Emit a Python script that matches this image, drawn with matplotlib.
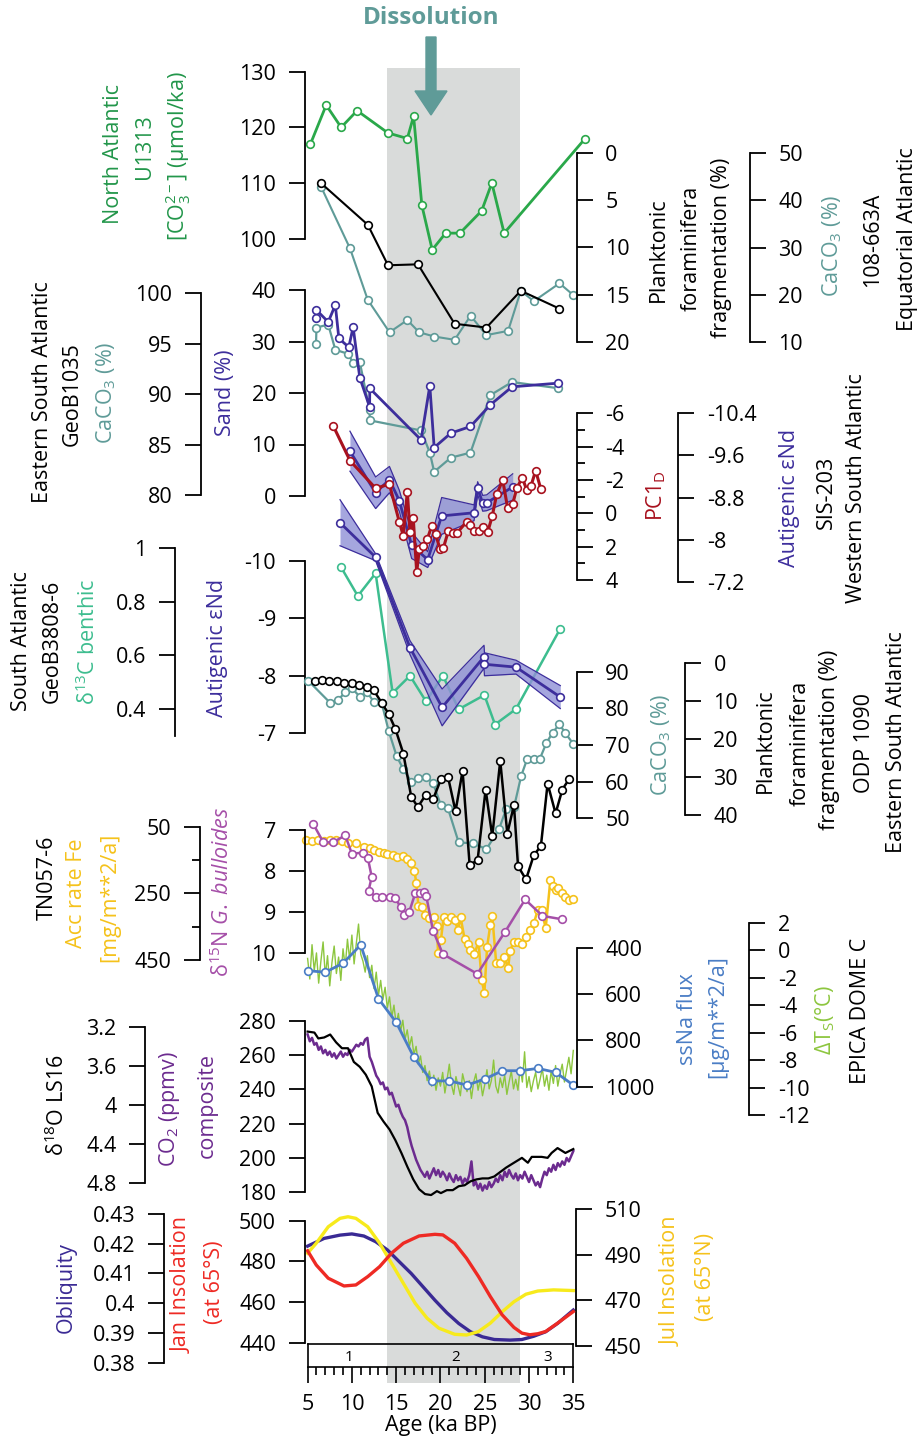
import numpy as np
import matplotlib.pyplot as plt
from matplotlib.patches import FancyArrow
from matplotlib.ticker import FormatStrFormatter

plt.rcParams['font.family'] = ['Open Sans', 'DejaVu Sans']
plt.rcParams['mathtext.fontset'] = 'custom'
plt.rcParams['mathtext.rm'] = 'Open Sans'
plt.rcParams['mathtext.it'] = 'Open Sans:italic'
plt.rcParams['mathtext.bf'] = 'Open Sans:bold'
plt.rcParams['axes.unicode_minus'] = False

# ---- records (age in ka BP) ----
DISSOLUTION = (14, 29)
MIS_LABELS = ['1', '2', '3']
MIS_CENTERS = [9.7, 21.7, 32.1]

# North Atlantic U1313, carbonate ion
U1313_AGE = [5.32, 7.1, 8.79, 10.59, 14.07, 16.26, 16.97, 17.9, 19.07, 20.58, 22.2, 24.65, 25.8, 27.19, 36.34]
U1313_CO3 = [117, 124, 120, 123, 119, 118, 122, 106, 98, 101, 101, 105, 110, 101, 118]

# 108-663A Equatorial Atlantic
FRAG663_AGE = [6.52, 11.79, 14.08, 17.46, 21.6, 25.19, 29.07, 33.44]
FRAG663 = [3.2, 7.6, 11.9, 11.8, 18.1, 18.5, 14.6, 16.5]
CACO3_663_AGE = [6.52, 9.79, 11.79, 14.25, 16.26, 17.59, 19.3, 21.6, 23.4, 25.19, 27.64, 29.07, 30.54, 33.44, 35.0]
CACO3_663 = [42.9, 29.8, 18.9, 12.0, 14.6, 12.0, 11.1, 10.4, 15.5, 11.4, 12.3, 20.8, 18.6, 22.4, 19.9]

# GeoB1035 Eastern South Atlantic
GEOB1035_AGE = [5.95, 6.0, 7.33, 8.13, 9.56, 10.14, 10.89, 12.0, 12.02, 17.81, 18.8, 19.29, 21.17, 23.39, 25.63, 28.08, 33.22]
GEOB1035_CACO3 = [95.0, 96.6, 96.9, 94.4, 94.0, 93.1, 93.2, 88.4, 87.4, 86.4, 84.2, 82.3, 83.7, 84.2, 89.9, 91.2, 90.6]
SAND_AGE = [5.95, 6.0, 7.33, 8.13, 8.53, 9.65, 10.14, 10.89, 12.0, 12.02, 17.81, 18.8, 19.29, 21.17, 23.39, 25.63, 28.08, 33.22]
SAND = [34.6, 36.1, 33.8, 37.1, 30.6, 28.9, 32.8, 23.0, 17.3, 20.9, 10.9, 21.4, 9.4, 12.2, 13.5, 17.7, 21.2, 21.9]

# SIS-203 Western South Atlantic
PC1_AGE = [7.9, 9.79, 12.68, 14.23, 15.35, 15.8, 16.26, 16.56, 16.93, 17.32, 17.61, 18.06, 18.51, 19.01, 19.46,
           19.95, 20.32, 20.89, 21.38, 21.83, 22.96, 23.34, 23.82, 24.35, 24.84, 25.33, 25.85, 26.35, 27.03,
           27.59, 28.16, 28.61, 29.24, 29.74, 30.22, 30.75, 31.32]
PC1 = [-5.24, -3.16, -1.5, -1.75, 0.5, 1.34, -1.3, 1.14, 0.3, 3.54, 2.14, 1.96, 1.56, 0.76, 1.24,
       2.16, 2.1, 1.06, 1.2, 1.2, 0.5, 0.7, 1.06, 1.06, 0.8, 1.14, 0.16, -1.14, -2.0,
       -0.3, -0.56, -1.5, -2.14, -1.4, -1.64, -2.56, -1.48]
SIS_ND_AGE = [9.78, 12.68, 14.24, 15.35, 16.75, 18.56, 20.14, 23.79, 24.2, 24.77, 25.22, 28.16]
SIS_ND = [-9.68, -8.89, -9.14, -8.74, -7.89, -7.62, -8.45, -8.51, -8.98, -8.69, -8.7, -9.0]
SIS_ND_ERR = [0.38, 0.3, 0.25, 0.2, 0.25, 0.15, 0.35, 0.15, 0.12, 0.15, 0.15, 0.25]

# GeoB3808-6 South Atlantic
D13C_AGE = [8.75, 10.67, 12.68, 14.6, 16.56, 18.36, 20.28, 22.06, 24.96, 26.16, 28.53, 33.53]
D13C = [0.931, 0.822, 0.907, 0.46, 0.524, 0.429, 0.524, 0.399, 0.452, 0.342, 0.40, 0.70]
G3808_ND_AGE = [8.66, 12.68, 16.56, 20.19, 24.92, 24.97, 28.53, 33.53]
G3808_ND = [-10.66, -10.06, -8.49, -7.45, -8.33, -8.2, -8.15, -7.63]
G3808_ND_ERR = [0.4, 0.06, 0.12, 0.32, 0.2, 0.2, 0.12, 0.2]

# ODP 1090 Eastern South Atlantic
CACO3_1090_AGE = [5.09, 7.55, 8.44, 9.25, 10.0, 10.89, 11.7, 12.46, 13.36, 14.16, 15.05, 15.81, 16.7, 17.5,
                  18.36, 19.16, 20.05, 20.85, 22.06, 23.62, 25.19, 26.61, 27.41, 28.3, 29.12, 29.78, 30.54,
                  31.2, 31.97, 32.68, 33.44, 34.11, 35.0]
CACO3_1090 = [87.5, 81.5, 82.3, 84.4, 85.5, 83.2, 84.5, 81.8, 81.5, 73.8, 67.0, 63.4, 60.0, 60.9,
              61.4, 59.6, 53.6, 52.7, 43.4, 43.2, 41.6, 47.0, 52.5, 53.0, 61.6, 66.1, 66.1,
              66.1, 70.6, 73.4, 75.7, 73.2, 70.3]
FRAG1090_AGE = [5.85, 6.66, 7.46, 8.31, 9.11, 10.0, 10.8, 11.7, 12.46, 13.36, 14.16, 14.91, 15.81, 16.7,
                17.45, 18.36, 19.16, 20.05, 20.85, 21.7, 22.5, 23.3, 24.2, 25.1, 25.85, 26.75, 27.55,
                28.3, 28.76, 29.66, 30.54, 31.34, 32.1, 33.0, 33.76, 34.56]
FRAG1090 = [4.6, 4.4, 4.6, 4.6, 5.3, 5.3, 5.7, 6.2, 7.1, 10.4, 13.4, 17.3, 23.8, 35.2,
            37.9, 34.6, 35.9, 30.6, 29.9, 39.0, 28.4, 53.3, 51.8, 33.3, 45.6, 25.7, 44.9,
            37.4, 53.5, 57.0, 50.6, 48.2, 31.7, 39.6, 33.3, 30.4]

# TN057-6
D15N_AGE = [5.63, 6.78, 7.86, 9.25, 10.0, 11.21, 11.79, 12.24, 11.88, 12.68, 13.36, 14.25, 14.91, 15.5,
            15.9, 16.48, 17.15, 17.72, 18.17, 18.4, 19.16, 20.28, 24.16, 27.32, 29.56, 31.52, 33.67]
D15N = [6.85, 7.30, 7.30, 7.13, 7.58, 7.55, 7.67, 8.14, 8.48, 8.62, 8.62, 8.62, 8.66, 8.88,
        9.07, 8.99, 8.54, 8.53, 8.5, 8.61, 9.45, 10.02, 10.5, 9.47, 8.69, 9.09, 9.17]
FE_AGE = [4.86, 5.54, 6.21, 6.88, 7.55, 8.22, 8.88, 9.56, 10.45, 11.35, 12.01, 12.46, 13.04, 13.58,
          14.02, 14.69, 15.14, 15.81, 16.26, 16.7, 17.06, 17.28, 17.51, 17.95, 18.27, 18.71, 19.29,
          19.6, 19.73, 20.05, 20.37, 20.72, 21.17, 21.61, 21.97, 22.28, 22.73, 23.09, 23.39, 23.84,
          24.3, 24.65, 24.96, 25.27, 25.63, 25.85, 26.29, 26.74, 27.2, 27.64, 27.86, 28.3, 28.75,
          29.2, 29.65, 30.1, 30.54, 30.99, 31.43, 31.88, 32.41, 32.68, 33.0, 33.3, 33.67, 34.11,
          34.56, 34.92]
FE = [90, 92, 90, 92, 90, 90, 92, 100, 98, 110, 115, 120, 125, 130,
      133, 135, 140, 138, 148, 160, 182, 220, 288, 290, 315, 325, 320,
      348, 430, 390, 320, 332, 322, 330, 360, 322, 388, 402, 420, 432,
      395, 510, 548, 410, 345, 318, 458, 458, 440, 475, 422, 395, 395,
      402, 380, 360, 340, 300, 300, 355, 210, 228, 240, 235, 250, 260,
      270, 268]

# EPICA Dome C
SSNA_AGE = [5, 7, 9, 11, 13, 15, 17, 19, 21, 23, 25, 27, 29, 31, 33, 35]
SSNA = [499, 506, 467, 388, 620, 722, 873, 975, 975, 993, 967, 931, 931, 921, 938, 993]
DTS_AGE = np.round(np.arange(5.0, 35.01, 0.25), 2)
DTS = [-0.6, -2.1, 0.4, -1.5, -0.2, -2.4, -0.8, 0.6, -1.9, -0.4, -2.6, -0.9,
       0.3, -1.7, -0.5, -2.2, 0.1, -1.2, 0.8, -0.7, 1.1, -1.0, 0.5, 1.9,
       -0.3, -0.8, -1.6, -0.4, -2.0, -1.1, -2.8, -1.6, -3.3, -2.2, -3.6, -2.7,
       -4.2, -3.4, -4.9, -4.0, -5.4, -4.6, -5.9, -5.1, -6.5, -5.8, -7.0, -6.3,
       -7.6, -7.0, -8.3, -7.7, -8.9, -8.4, -9.5, -8.8, -9.9, -9.1, -10.2, -9.3,
       -9.9, -8.9, -10.4, -9.4, -8.3, -9.8, -10.5, -9.2, -9.9, -10.6, -9.0, -9.7,
       -10.3, -9.5, -10.8, -9.6, -9.0, -10.2, -9.4, -10.6, -9.8, -8.7, -10.1, -9.5,
       -8.0, -9.9, -10.4, -9.3, -10.0, -9.1, -10.5, -9.6, -8.8, -10.1, -9.4, -10.2,
       -8.5, -9.6, -7.4, -10.0, -9.2, -10.3, -9.5, -8.9, -10.1, -9.4, -8.6, -9.9,
       -9.1, -10.2, -8.8, -9.7, -8.4, -9.9, -9.0, -8.3, -9.6, -8.7, -7.8, -9.0,
       -7.3]

# CO2 composite and LS16 benthic stack
CO2_AGE = np.round(np.arange(5.0, 35.01, 0.25), 2)
CO2 = [272, 268, 270, 266, 267, 263, 265, 261, 263, 260, 262, 259,
       261, 258, 260, 262, 259, 261, 260, 263, 262, 264, 266, 265,
       267, 266, 269, 270, 259, 256, 252, 248, 246, 243, 244, 240,
       241, 237, 238, 234, 230, 231, 227, 224, 222, 218, 212, 207,
       203, 199, 196, 193, 191, 189, 192, 188, 191, 194, 190, 193,
       189, 192, 190, 187, 191, 188, 186, 190, 187, 189, 185, 188,
       186, 190, 198, 184, 186, 182, 185, 181, 184, 182, 186, 183,
       185, 188, 186, 190, 187, 192, 189, 193, 190, 188, 191, 187,
       190, 188, 192, 189, 186, 190, 187, 184, 186, 183, 188, 192,
       190, 194, 192, 196, 193, 197, 195, 198, 196, 200, 198, 201,
       204]
LS16_AGE = [5.0, 5.77, 6.21, 6.87, 7.55, 8.22, 8.88, 9.56, 10.22, 10.89, 11.57, 12.24, 12.91, 13.58,
            14.25, 14.91, 15.59, 16.26, 16.93, 17.59, 18.26, 18.94, 19.6, 20.05, 20.72, 21.39, 22.06,
            22.73, 23.39, 24.07, 24.74, 25.41, 26.08, 26.52, 27.41, 28.3, 29.2, 29.87, 30.31, 31.43,
            32.1, 32.55, 33.22, 34.11, 35.0]
LS16 = [3.25, 3.26, 3.32, 3.31, 3.28, 3.36, 3.42, 3.42, 3.56, 3.61, 3.69, 3.81, 4.08, 4.17,
        4.25, 4.36, 4.49, 4.63, 4.76, 4.86, 4.91, 4.92, 4.88, 4.9, 4.87, 4.87, 4.83,
        4.82, 4.78, 4.76, 4.75, 4.75, 4.73, 4.70, 4.64, 4.59, 4.54, 4.59, 4.53, 4.53,
        4.54, 4.49, 4.44, 4.49, 4.45]

# orbital parameters
JAN_AGE = [5.0, 5.98, 7.33, 9.11, 10.45, 11.79, 13.13, 14.47, 15.81, 17.59, 19.38, 20.28, 21.61, 22.95,
           24.3, 25.63, 26.97, 28.3, 29.2, 30.09, 30.99, 31.88, 33.22, 35.0]
JAN_INS = [485.2, 478.2, 471.7, 467.9, 468.4, 472.5, 477.4, 484, 488.9, 492.5, 493.3, 493, 488.9, 481.5,
           472.5, 462.7, 453.7, 447.5, 444.7, 443.9, 444.4, 445.5, 449.6, 455.3]
OBL_AGE = [5.0, 6.87, 8.66, 10.0, 11.35, 12.68, 14.02, 15.37, 16.7, 18.04, 19.38, 20.72, 22.06, 23.39,
           24.74, 26.08, 27.86, 29.2, 30.54, 31.88, 33.22, 35.0]
OBLIQ = [0.4192, 0.4218, 0.4229, 0.4233, 0.4226, 0.4207, 0.4179, 0.4139, 0.41, 0.4055, 0.401, 0.3968,
         0.3932, 0.3904, 0.3887, 0.3878, 0.3876, 0.3878, 0.3889, 0.3904, 0.3932, 0.3977]
JUL_AGE = [5.0, 5.98, 7.33, 8.66, 9.56, 10.45, 11.79, 13.13, 14.47, 15.81, 17.15, 18.48, 19.82, 21.61,
           22.95, 24.3, 25.63, 26.97, 28.3, 29.65, 30.99, 32.77, 35.0]
JUL_INS = [490.6, 495, 502.2, 505.9, 506.6, 505.9, 502.2, 495, 486.2, 477.4, 468.6, 462.1, 457.7, 455,
           454.7, 456.2, 459.9, 464.9, 469.3, 472.6, 474, 474.5, 474.2]

# ---- colours ----
GREEN = '#2aa84a'
TEAL = '#5f9b98'
PURPLE = '#3d2e9c'
RED = '#a8121f'
BENTHIC = '#3dbd8f'
MAGENTA = '#a54fa8'
YELLOW = '#f5c21b'
BLUE = '#4a7dc5'
LIME = '#8dc63f'
CO2_PURPLE = '#6c2b8f'
JAN_RED = '#ee2a24'
JUL_YELLOW = '#f7ea1c'
BAND = '#8f90d6'

W, H = 919, 1438
X5, X35 = 307.6, 573.3
FS = 15.5

fig = plt.figure(figsize=(W / 100, H / 100), dpi=100)

# shaded dissolution interval behind everything
bg = fig.add_axes([X5 / W, 1 - 1383 / H, (X35 - X5) / W, (1383 - 68.3) / H], zorder=-1)
bg.set_xlim(5, 35)
bg.axvspan(*DISSOLUTION, color='#d9dbda', lw=0)
bg.axis('off')


def panel(y_top, y_bot, v_top, v_bot):
    ax = fig.add_axes([X5 / W, 1 - y_bot / H, (X35 - X5) / W, (y_bot - y_top) / H])
    ax.set_xlim(5, 35)
    ax.set_ylim(v_bot, v_top)
    ax.patch.set_visible(False)
    for s in ax.spines.values():
        s.set_visible(False)
    ax.tick_params(axis='x', bottom=False, labelbottom=False)
    ax.tick_params(axis='y', left=False, labelleft=False)
    return ax


def yaxis(ax, side, x_px, ticks, minor=None, bounds=None):
    lims = ax.get_ylim()
    sp = ax.spines[side]
    sp.set_visible(True)
    sp.set_linewidth(1.3)
    sp.set_position(('axes', (x_px - X5) / (X35 - X5)))
    if bounds:
        sp.set_bounds(*bounds)
    ax.set_yticks(ticks)
    if minor:
        ax.set_yticks(minor, minor=True)
    ax.set_ylim(lims)
    ax.yaxis.set_major_formatter(FormatStrFormatter('%g'))
    on = side == 'left'
    ax.tick_params(axis='y', which='both', left=on, labelleft=on, right=not on,
                   labelright=not on, direction='out', width=1.3)
    ax.tick_params(axis='y', which='major', length=11.5, pad=9, labelsize=FS)
    ax.tick_params(axis='y', which='minor', length=6)


def series(ax, x, y, color, lw=1.6, ms=5.5, marker='o'):
    ax.plot(x, y, color=color, lw=lw, marker=marker, ms=ms, mfc='white', mec=color,
            mew=1.2, clip_on=False, solid_joinstyle='round')


def band(ax, x, y, err, color):
    lo = np.array(y) - np.array(err)
    hi = np.array(y) + np.array(err)
    ax.fill_between(x, lo, hi, color=BAND, alpha=0.8, lw=0, clip_on=False)
    ax.plot(x, lo, color=color, lw=0.9, clip_on=False)
    ax.plot(x, hi, color=color, lw=0.9, clip_on=False)


def label(x, y, s, color='black', size=FS, **kw):
    fig.text(x / W, 1 - y / H, s, rotation=90, ha='center', va='center',
             color=color, fontsize=size, **kw)


# 108-663A
ax = panel(153.3, 341.7, 50, 10)
yaxis(ax, 'right', 750, [10, 20, 30, 40, 50])
series(ax, CACO3_663_AGE, CACO3_663, TEAL, lw=1.5)
ax = panel(153, 341.7, 0, 20)
yaxis(ax, 'right', 576.7, [0, 5, 10, 15, 20])
series(ax, FRAG663_AGE, FRAG663, 'black', lw=1.5)

# U1313
ax = panel(71.7, 238.7, 130, 100)
yaxis(ax, 'left', 304.5, [100, 110, 120, 130])
series(ax, U1313_AGE, U1313_CO3, GREEN, lw=2.0)

# GeoB1035
ax = panel(293.3, 495, 100, 80)
yaxis(ax, 'left', 200.9, [80, 85, 90, 95, 100])
series(ax, GEOB1035_AGE, GEOB1035_CACO3, TEAL, lw=1.6)
ax = panel(290, 496, 40, 0)
yaxis(ax, 'left', 304.5, [0, 10, 20, 30, 40])
series(ax, SAND_AGE, SAND, PURPLE, lw=2.0)

# SIS-203
ax = panel(413.3, 581.7, -10.4, -7.2)
yaxis(ax, 'right', 678.3, [-10.4, -9.6, -8.8, -8.0, -7.2])
band(ax, SIS_ND_AGE, SIS_ND, SIS_ND_ERR, PURPLE)
series(ax, SIS_ND_AGE, SIS_ND, PURPLE, lw=2.0)
ax = panel(413.3, 580, -6, 4)
yaxis(ax, 'right', 576.7, [-6, -4, -2, 0, 2, 4], minor=[-5, -3, -1, 1, 3])
series(ax, PC1_AGE, PC1, RED, lw=2.2)

# GeoB3808-6
ax = panel(548.3, 709, 1.0, 0.4)
yaxis(ax, 'left', 174.8, [0.4, 0.6, 0.8, 1.0], bounds=(0.3, 1.0))
series(ax, D13C_AGE, D13C, BENTHIC, lw=1.8)
ax = panel(560.7, 733.3, -10, -7)
yaxis(ax, 'left', 304.5, [-10, -9, -8, -7])
band(ax, G3808_ND_AGE, G3808_ND, G3808_ND_ERR, PURPLE)
series(ax, G3808_ND_AGE, G3808_ND, PURPLE, lw=2.0)

# ODP 1090
ax = panel(671.7, 818.3, 90, 50)
yaxis(ax, 'right', 576.7, [50, 60, 70, 80, 90])
series(ax, CACO3_1090_AGE, CACO3_1090, TEAL, lw=1.6)
ax = panel(663.3, 815, 0, 40)
yaxis(ax, 'right', 685, [0, 10, 20, 30, 40])
series(ax, FRAG1090_AGE, FRAG1090, 'black', lw=1.8)

# TN057-6
ax = panel(826.7, 960, 50, 450)
yaxis(ax, 'left', 199.7, [50, 250, 450], minor=[150, 350])
series(ax, FE_AGE, FE, YELLOW, lw=1.8)
ax = panel(830, 953.3, 7, 10)
yaxis(ax, 'left', 304.5, [7, 8, 9, 10])
series(ax, D15N_AGE, D15N, MAGENTA, lw=1.8)

# EPICA Dome C
ax = panel(922.7, 1115, 2, -12)
yaxis(ax, 'right', 749.3, [-12, -10, -8, -6, -4, -2, 0, 2])
ax.plot(DTS_AGE, DTS, color=LIME, lw=1.0, clip_on=False)
ax = panel(947.7, 1086.7, 400, 1000)
yaxis(ax, 'right', 576.7, [400, 600, 800, 1000])
series(ax, SSNA_AGE, SSNA, BLUE, lw=2.0)

# CO2 and benthic stack
ax = panel(1020.7, 1192.3, 280, 180)
yaxis(ax, 'left', 304.5, [180, 200, 220, 240, 260, 280])
ax.plot(CO2_AGE, CO2, color=CO2_PURPLE, lw=1.8, clip_on=False)
ax = panel(1026.7, 1183.3, 3.2, 4.8)
yaxis(ax, 'left', 145.1, [3.2, 3.6, 4.0, 4.4, 4.8])
ax.plot(LS16_AGE, LS16, color='black', lw=1.6, clip_on=False)

# orbital forcing
ax = panel(1214, 1362.7, 0.43, 0.38)
yaxis(ax, 'left', 164, [0.38, 0.39, 0.40, 0.41, 0.42, 0.43])
ax.plot(OBL_AGE, OBLIQ, color='#3a2a94', lw=2.4, clip_on=False)
ax = panel(1209, 1345.7, 510, 450)
yaxis(ax, 'right', 576, [450, 470, 490, 510])
ax.plot(JUL_AGE, JUL_INS, color=JUL_YELLOW, lw=2.4, clip_on=False)
ax = panel(1220.7, 1342.7, 500, 440)
yaxis(ax, 'left', 304.5, [440, 460, 480, 500])
ax.plot(JAN_AGE, JAN_INS, color=JAN_RED, lw=2.4, clip_on=False)

# marine isotope stages and the age axis
st = fig.add_axes([X5 / W, 1 - 1366.7 / H, (X35 - X5) / W, (1366.7 - 1344.3) / H])
st.patch.set_visible(False)
st.set_xlim(5, 35)
st.set_ylim(0, 1)
st.set_yticks([])
st.set_xticks(range(5, 36, 5))
st.set_xticks(range(5, 36), minor=True)
for s in st.spines.values():
    s.set_linewidth(1.2)
st.tick_params(axis='x', which='major', length=11.5, width=1.2, pad=8, labelsize=FS)
st.tick_params(axis='x', which='minor', length=6, width=1.2)
st.set_xlabel('Age (ka BP)', fontsize=FS, labelpad=0)
for s, c in zip(MIS_LABELS, MIS_CENTERS):
    st.text(c, 0.42, s, ha='center', va='center', fontsize=11)

# dissolution marker
fig.text(431 / W, 1 - 18 / H, 'Dissolution', ha='center', va='center', fontsize=17.5,
         weight='bold', color=TEAL)
fig.add_artist(FancyArrow(4.31, (H - 37) / 100, 0, -(115 - 37) / 100, width=0.10,
                          head_width=0.32, head_length=0.24, length_includes_head=True,
                          color=TEAL, transform=fig.dpi_scale_trans))

# axis titles
label(113.7, 154, 'North Atlantic', '#22964a')
label(144, 147, 'U1313', '#22964a')
label(178, 156, '[CO$_3^{2-}$] (µmol/ka)', '#22964a')
label(658.5, 250, 'Planktonic')
label(691.5, 248, 'foraminifera')
label(722, 247.5, 'fragmentation (%)')
label(832, 246, 'CaCO$_3$ (%)', TEAL)
label(873, 240, '108-663A')
label(907, 239.5, 'Equatorial Atlantic')

label(42.5, 392.5, 'Eastern South Atlantic')
label(72, 394, 'GeoB1035')
label(106, 392.5, 'CaCO$_3$ (%)', TEAL)
label(226, 393, 'Sand (%)', PURPLE)

label(656.5, 496, 'PC1$_\\mathrm{D}$', RED)
label(790, 498, 'Autigenic εNd', PURPLE)
label(826.5, 492.5, 'SIS-203')
label(856, 488, 'Western South Atlantic')

label(22, 641, 'South Atlantic')
label(52.5, 641, 'GeoB3808-6')
label(88, 641.7, 'δ$^{13}$C benthic', BENTHIC)
label(217.5, 647.5, 'Autigenic εNd', PURPLE)

label(661, 745, 'CaCO$_3$ (%)', TEAL)
label(765.5, 741, 'Planktonic')
label(800, 743, 'foraminifera')
label(830, 740, 'fragmentation (%)')
label(865, 743, 'ODP 1090')
label(897, 742, 'Eastern South Atlantic')

label(47.5, 878, 'TN057-6')
label(77, 893, 'Acc rate Fe', YELLOW)
label(110, 897.5, '[mg/m**2/a]', YELLOW)
label(222, 891.7, 'δ$^{15}$N $\\mathit{G.\\ bulloides}$', MAGENTA)

label(687.5, 1019, 'ssNa flux', BLUE)
label(718, 1017, '[µg/m**2/a]', BLUE)
label(825, 1020, 'ΔT$_\\mathrm{S}$(°C)', LIME)
label(861, 1011, 'EPICA DOME C')

label(57, 1105, 'δ$^{18}$O LS16')
label(170, 1109, 'CO$_2$ (ppmv)', CO2_PURPLE)
label(207.5, 1106, 'composite', CO2_PURPLE)

label(66, 1287.5, 'Obliquity', '#3a2a94')
label(182, 1285, 'Jan Insolation', JAN_RED)
label(214.5, 1282.5, '(at 65°S)', JAN_RED)
label(671.5, 1281.5, 'Jul Insolation', YELLOW)
label(705, 1277, '(at 65°N)', YELLOW)

fig.savefig('out.png', dpi=100)
